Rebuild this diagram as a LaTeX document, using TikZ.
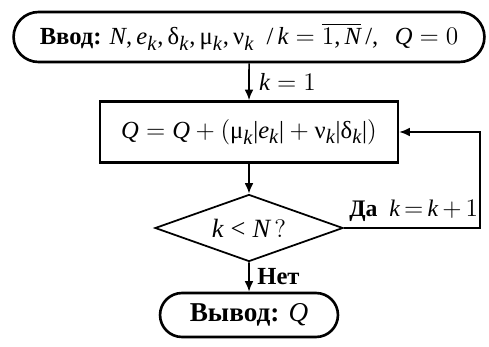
\documentclass[tikz,border=0pt]{standalone}
\usepackage{amsmath}
\usepackage{fontspec}
\setmainfont{Liberation Serif}
\usepackage[italic]{mathastext}
\usetikzlibrary{shapes.geometric,shapes.misc,arrows.meta,positioning}
\newcommand{\gr}[1]{\text{\upshape #1}}
\tikzset{
  term/.style={draw,rounded rectangle,line width=1.5pt,inner sep=2pt},
  proc/.style={draw,rectangle,line width=1.5pt,inner sep=2pt},
  cond/.style={draw,diamond,aspect=2.8,line width=1pt,inner sep=0pt},
  flow/.style={line width=0.9pt,-{Latex[length=6pt,width=5pt]}}
}

\begin{document}
\begin{tikzpicture}[x=0.02cm,y=-0.02cm,font=\fontsize{14}{16}\selectfont]
  \useasboundingbox (0,0) rectangle (489,347);
  % input
  \node[term,minimum width=9.56cm,minimum height=1.0cm] (inp) at (249,37)
    {\textbf{Ввод:} $N, e_k, \gr{δ}_k, \gr{μ}_k, \gr{ν}_k\ \ /\,k=\overline{1,N}\,/,\ \ Q=0$};
  % loop body
  \node[proc,minimum width=5.96cm,minimum height=1.22cm] (upd) at (249,132)
    {$Q=Q+(\gr{μ}_k|e_k|+\gr{ν}_k|\gr{δ}_k|)$};
  % check
  \node[cond,minimum width=3.76cm,minimum height=1.34cm] (chk) at (249,228)
    {\fontsize{15}{17}\selectfont$k<N\,?$};
  % output
  \node[term,minimum width=3.7cm,minimum height=0.88cm] (out) at (249,315)
    {\fontsize{15.5}{17}\selectfont\textbf{Вывод:} $Q$};
  % arrows
  \coordinate (back) at (480,132);
  \draw[flow] (inp) -- node[right,xshift=2pt]{$k=1$} (upd);
  \draw[flow] (upd) -- (chk);
  \draw[flow] (chk) -- node[right,xshift=1pt]{\textbf{Нет}} (out);
  \draw[flow] (chk.east) -- node[above,xshift=1pt,font=\fontsize{13.5}{15}\selectfont]
    {\textbf{Да}\ \ $k\,{=}\,k\,{+}\,1$} (chk.east -| back)
    -- (back) -- (upd.east);
\end{tikzpicture}
\end{document}
